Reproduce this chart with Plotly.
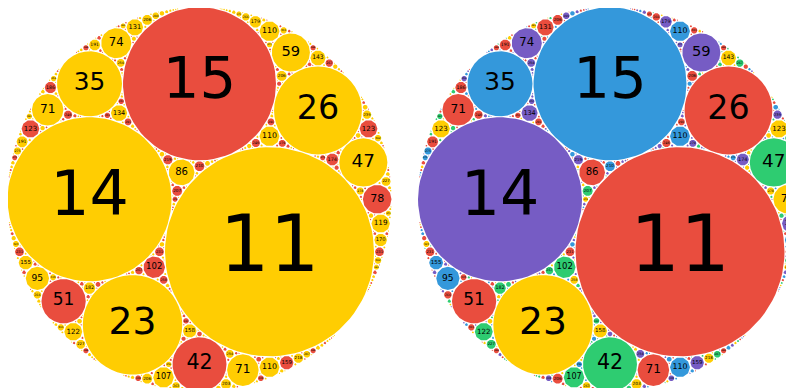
import math
import cmath
import plotly.graph_objects as go

# Descartes root quadruple: outer circle, top circle, left circle, and the one touching all three
ROOT_CURVATURES = [-6, 15, 14, 11]
MAX_CURVATURE = 1400

# each panel colours a circle by its curvature modulo a number
PANEL_MODULI = [3, 5]
PANEL_COLORS = [
    ["#E94D3E", "#FFCD02", "#FFCD02"],
    ["#3498DB", "#E94D3E", "#2ECC71", "#FFCD02", "#765CC4"],
]

# layout (pixels); the page body adds an 8px margin, so the figure is 8px smaller
W, H = 786, 380
PX = 1155.0                      # pixels per unit length
CENTERS = [(191.5, 191.3), (602.0, 191.3)]
GAP = 0.5                        # white seam between touching circles


def gasket(curv, kmax):
    k0, k1, k2, k3 = curv
    r0 = -1 / k0
    z1 = complex(0, r0 - 1 / k1)
    d1, d2, d12 = abs(z1), r0 - 1 / k2, 1 / k1 + 1 / k2
    t = math.acos((d1 * d1 + d2 * d2 - d12 * d12) / (2 * d1 * d2))
    z2 = cmath.rect(d2, math.pi / 2 + t)
    w1, w2 = k1 * z1, k2 * z2
    root = cmath.sqrt(w1 * w2)
    best = None
    for s in (1, -1):
        z3 = (w1 + w2 + 2 * s * root) / k3
        err = (abs(abs(z3 - z1) - (1 / k1 + 1 / k3)) + abs(abs(z3 - z2) - (1 / k2 + 1 / k3))
               + abs(abs(z3) - (r0 - 1 / k3)))
        if best is None or err < best[0]:
            best = (err, z3)
    quad = [(k0, 0j), (k1, w1), (k2, w2), (k3, k3 * best[1])]

    def flip(q, i):
        k = 2 * sum(c[0] for j, c in enumerate(q) if j != i) - q[i][0]
        w = 2 * sum(c[1] for j, c in enumerate(q) if j != i) - q[i][1]
        return (k, w)

    circles = [(k, w / k) for k, w in quad[1:]]
    stack = []
    for i in range(4):
        c = flip(quad, i)
        if c[0] <= kmax:
            q = list(quad); q[i] = c
            stack.append((q, i))
    while stack:
        q, i = stack.pop()
        k, w = q[i]
        circles.append((k, w / k))
        for j in range(4):
            if j == i:
                continue
            c = flip(q, j)
            if c[0] <= kmax:
                q2 = list(q); q2[j] = c
                stack.append((q2, j))
    return circles


circles = gasket(ROOT_CURVATURES, MAX_CURVATURE)

fig = go.Figure()
for p, (mod, colors) in enumerate(zip(PANEL_MODULI, PANEL_COLORS)):
    shift = (CENTERS[p][0] - CENTERS[0][0]) / PX
    groups = {}
    tx, ty, tt, ts = [], [], [], []
    for k, z in circles:
        k = int(round(k))
        r = 1 / k
        rpx = r * PX
        rd = max(r - GAP / PX, 0.7 * r)
        n = max(10, min(90, int(rpx)))
        gx, gy = groups.setdefault(k % mod, ([], []))
        for a in range(n + 1):
            ang = 2 * math.pi * a / n
            gx.append(z.real + shift + rd * math.cos(ang))
            gy.append(z.imag + rd * math.sin(ang))
        gx.append(None); gy.append(None)
        if rpx >= 3:
            tx.append(z.real + shift); ty.append(z.imag)
            tt.append(str(k)); ts.append(0.75 * rpx)
    for m in sorted(groups):
        gx, gy = groups[m]
        fig.add_trace(go.Scatter(x=gx, y=gy, mode="lines", fill="toself",
                                 fillcolor=colors[m], line=dict(width=0),
                                 hoverinfo="skip"))
    fig.add_trace(go.Scatter(x=tx, y=ty, text=tt, mode="text",
                             textposition="middle center",
                             textfont=dict(family="DejaVu Sans", color="black", size=ts),
                             hoverinfo="skip"))

cx, cy = CENTERS[0]
fig.update_layout(
    width=W, height=H, margin=dict(l=0, r=0, t=0, b=0),
    showlegend=False, hovermode=False,
    plot_bgcolor="white", paper_bgcolor="white",
    xaxis=dict(range=[-cx / PX, (W - cx) / PX], visible=False, fixedrange=True),
    yaxis=dict(range=[-(H - cy) / PX, cy / PX], visible=False, fixedrange=True),
)

fig.write_html("out.html")
